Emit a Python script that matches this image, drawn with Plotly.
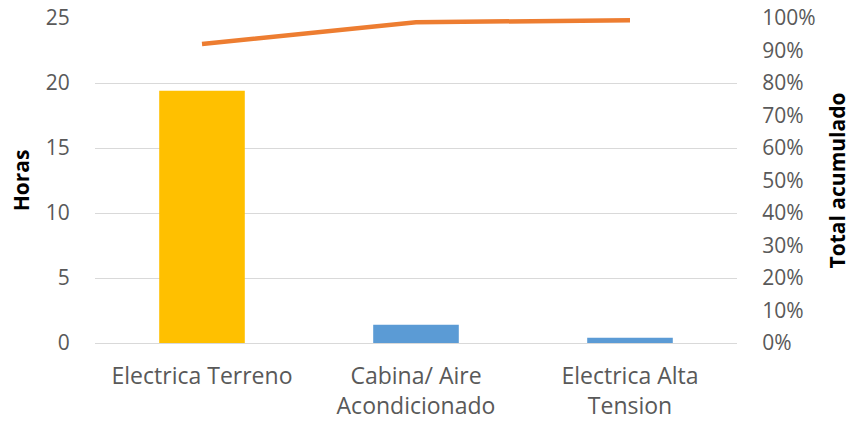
import plotly.graph_objects as go

categories = ["Electrica Terreno", "Cabina/ Aire<br>Acondicionado", "Electrica Alta<br>Tension"]
horas = [19.4, 1.4, 0.4]
acumulado = [0.92, 0.987, 0.993]
bar_colors = ["#FFC000", "#5B9BD5", "#5B9BD5"]
left_ticks = [0, 5, 10, 15, 20, 25]
right_ticks = [i / 10 for i in range(11)]

FONT = "Open Sans"
FS = 21
FSX = 23
TICK_COLOR = "#595959"

fig = go.Figure()
fig.add_trace(go.Bar(x=categories, y=horas, marker=dict(color=bar_colors, line=dict(width=0)),
                     width=0.4, showlegend=False))
fig.add_trace(go.Scatter(x=categories, y=acumulado, yaxis="y2", mode="lines",
                         line=dict(color="#ED7D31", width=4.5), showlegend=False))

fig.update_layout(
    width=851, height=423,
    margin=dict(l=95, r=114, t=18, b=80),
    plot_bgcolor="white", paper_bgcolor="white",
    font=dict(family=FONT, size=FS, color=TICK_COLOR),
    xaxis=dict(showgrid=False, showline=True, linecolor="#d9d9d9", linewidth=1,
               automargin=False,
               ticks="outside", ticklen=12, tickcolor="rgba(0,0,0,0)",
               tickfont=dict(family=FONT, size=FSX, color=TICK_COLOR)),
    yaxis=dict(range=[0, 25], tickvals=left_ticks, showgrid=True, gridcolor="#d9d9d9",
               gridwidth=1, zeroline=False, showline=False, automargin=False,
               ticks="outside", ticklen=20, tickcolor="rgba(0,0,0,0)",
               tickfont=dict(family=FONT, size=FS, color=TICK_COLOR),
               title=dict(text="<b>Horas</b>", font=dict(family=FONT, size=FS, color="black"),
                          standoff=10)),
    yaxis2=dict(range=[0, 1], tickvals=right_ticks, tickformat=".0%", overlaying="y",
                side="right", showgrid=False, zeroline=False, showline=False, automargin=False,
                ticks="outside", ticklen=20, tickcolor="rgba(0,0,0,0)",
                tickfont=dict(family=FONT, size=FS, color=TICK_COLOR),
                title=dict(text="<b>Total acumulado</b>", font=dict(family=FONT, size=FS, color="black"),
                           standoff=18)),
)

fig.write_html("out.html")
